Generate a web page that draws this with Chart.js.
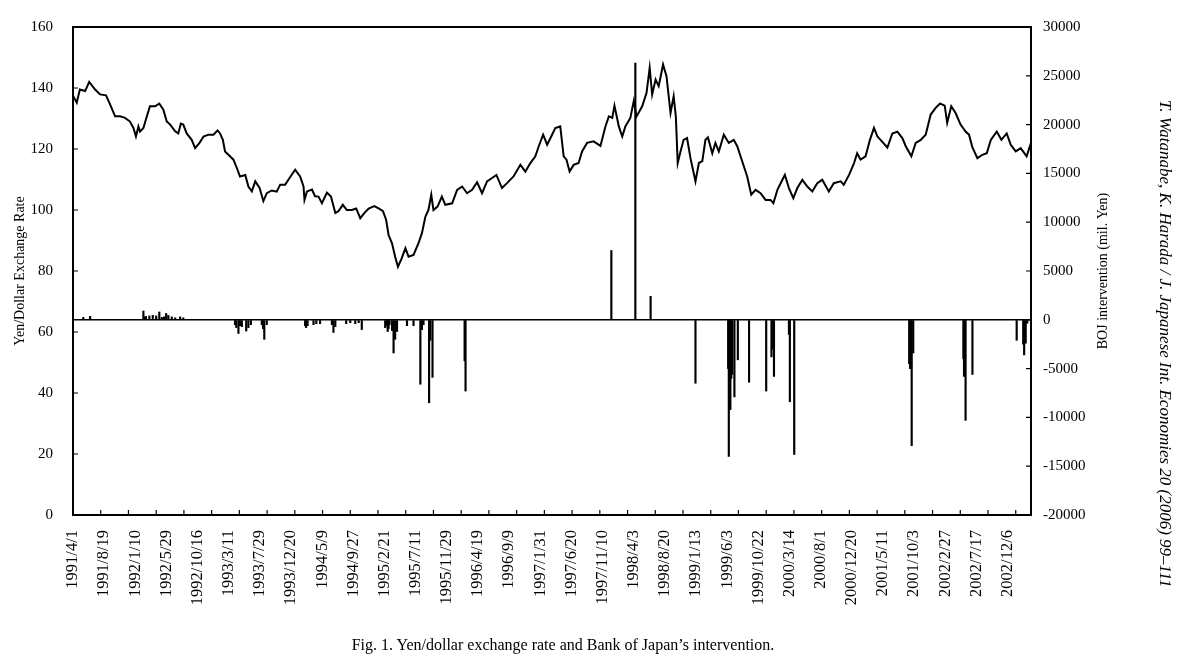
<!DOCTYPE html>
<html lang="en">
<head>
    <meta charset="UTF-8">
    <title>Yen/dollar exchange rate and Bank of Japan's intervention</title>
    <script src="https://cdn.jsdelivr.net/npm/chart.js"></script>
    <style>
        body { margin: 0; background: #fff; }
        #wrap { position: relative; width: 1200px; height: 668px; }
        #caption {
            position: absolute; left: 563px; top: 636px; transform: translateX(-50%);
            font: 16px "Liberation Serif", serif; color: #000; white-space: nowrap;
        }
        #journal {
            position: absolute; left: 1155px; top: 100px; writing-mode: vertical-rl;
            font: italic 17px "Liberation Serif", serif; color: #000; white-space: nowrap;
        }
    </style>
</head>
<body>
<div id="wrap">
    <canvas id="chart"></canvas>
    <div id="caption">Fig. 1. Yen/dollar exchange rate and Bank of Japan’s intervention.</div>
    <div id="journal">T. Watanabe, K. Harada / J. Japanese Int. Economies 20 (2006) 99–111</div>
</div>

<script>
// x labels: one every 100 business days from 1991/4/1
const dateLabels = ['1991/4/1','1991/8/19','1992/1/10','1992/5/29','1992/10/16','1993/3/11','1993/7/29',
    '1993/12/20','1994/5/9','1994/9/27','1995/2/21','1995/7/11','1995/11/29','1996/4/19','1996/9/9',
    '1997/1/31','1997/6/20','1997/11/10','1998/4/3','1998/8/20','1999/1/13','1999/6/3','1999/10/22',
    '2000/3/14','2000/8/1','2000/12/20','2001/5/11','2001/10/3','2002/2/27','2002/7/17','2002/12/6'];
const lastDay = 3075;
const tickEvery = 89;

// yen/dollar rate (business day index, yen)
const rateDay = [0,12,22,39,52,71,87,106,119,135,151,167,183,194,202,210,215,226,237,247,263,277,290,301,312,
    328,338,346,354,365,381,392,406,419,435,451,464,472,481,488,499,515,528,536,553,563,574,585,599,611,622,
    638,654,665,681,695,713,729,740,743,751,767,777,788,799,815,828,842,852,866,879,895,909,922,935,949,967,
    981,995,1005,1013,1024,1034,1043,1054,1067,1077,1093,1109,1120,1131,1141,1150,1157,1170,1184,1195,1217,
    1233,1249,1265,1281,1297,1313,1329,1345,1359,1377,1393,1414,1436,1452,1468,1484,1495,1509,1522,1535,1548,
    1564,1575,1584,1594,1607,1623,1634,1650,1671,1693,1709,1720,1731,1738,1752,1763,1773,1789,1800,1809,1827,
    1841,1851,1859,1870,1880,1894,1905,1918,1928,1935,1941,1950,1960,1971,1982,1998,2009,2020,2030,2038,2052,
    2062,2073,2089,2105,2121,2132,2148,2164,2177,2191,2207,2223,2239,2248,2261,2277,2285,2298,2312,2325,2341,
    2357,2373,2389,2405,2426,2442,2464,2474,2491,2507,2517,2528,2544,2558,2571,2582,2592,2614,2630,2646,2662,
    2673,2691,2705,2721,2737,2753,2769,2783,2798,2806,2819,2833,2849,2865,2876,2887,2903,2919,2933,2946,2965,
    2980,2997,3010,3026,3042,3061,3075];
const rateValue = [137.5,135.2,139.5,139,142,139.5,137.9,137.6,134.6,130.7,130.7,130.2,129,126.9,124.1,127.4,
    125.7,126.9,130.7,134,134,134.9,132.9,129,128,125.8,125.1,128.3,128,125.1,123,120.3,122,124.1,124.7,124.7,
    126.1,125.1,123,119.2,118.1,116.5,113.2,111,111.5,107.7,106.1,109.4,107.2,102.9,105.5,106.4,106,108.3,108.3,
    110.5,113.2,111,107.7,103.3,106.1,106.7,104.5,104.4,102.2,105.7,104.4,99,99.6,101.7,100,100,100.5,97.3,99,
    100.5,101.3,100.5,99.6,96.8,91.8,89.1,84.7,81.4,83.9,87.5,84.7,85.3,89.1,92.4,97.8,100,105,100,101.1,104.4,
    101.7,102.2,106.6,107.7,105.5,106.6,109.1,105.5,109.4,110.5,111.5,107.2,108.8,111,114.8,112.6,115.4,117.6,
    120.9,124.7,121.4,124.1,126.9,127.4,117.6,116.5,112.6,114.8,115.4,119.2,122,122.5,121,127.4,130.7,130.2,
    134.2,127.4,124.1,127.4,130.2,135.7,130.7,134,138.4,146.6,137.9,142.8,140.6,147.7,143.9,131.8,137.3,130.7,
    115.4,119.2,123,123.6,117,109.4,115.4,116,123,123.8,118.6,122,119.2,124.7,122,123,120.9,116,111,105,106.6,
    105.5,103.3,103.3,102.2,106.6,109.9,111.5,107.2,103.9,107.2,109.9,107.7,106.1,108.8,109.9,106.1,108.8,109.4,
    108.3,111.5,115.4,118.6,116.5,117.6,123,126.9,124.1,123,120.5,125.1,125.7,123.6,120.9,117.6,122,123,124.7,
    131.3,133.5,134.9,134.2,128.6,134,131.8,128,125.7,124.7,120.5,117,118.1,118.6,123,125.7,123,125.1,121.4,
    119.2,120.3,117.6,122];

// BOJ intervention (business day index, mil. yen; + = yen buying)
const intvDay = [33,55,226,230,234,245,256,267,277,285,292,299,306,317,328,344,354,
    520,524,531,536,542,556,563,571,606,610,614,622,
    745,748,753,772,781,793,831,836,842,877,890,906,917,927,
    1002,1008,1010,1013,1016,1024,1029,1034,1040,1072,1093,1115,1120,1125,1143,1147,1154,1257,1260,
    1728,1805,1854,
    1998,2103,2105,2107,2110,2113,2116,2123,2134,2170,2225,2242,2245,2250,2298,2301,2315,
    2684,2687,2690,2692,2697,2858,2860,2862,2865,2887,3029,3050,3053,3058,3063];
const intvAmount = [250,350,900,300,350,400,450,400,800,250,300,650,450,300,200,300,200,
    -500,-800,-1400,-600,-700,-1150,-800,-500,-500,-900,-2000,-500,
    -600,-800,-600,-500,-400,-400,-500,-1300,-700,-400,-300,-400,-300,-1000,
    -800,-600,-1200,-900,-500,-1100,-3400,-2000,-1200,-600,-600,-6600,-1000,-500,-8500,-2100,-5900,-4200,-7300,
    7100,26300,2400,
    -6500,-5000,-14000,-9200,-9200,-6000,-5600,-7900,-4100,-6400,-7300,-3800,-3000,-5800,-1500,-8400,-13800,
    -4500,-5000,-4800,-12900,-3400,-4000,-5800,-5000,-10300,-5600,-2100,-2500,-3600,-2400,-350];

Chart.defaults.font.family = '"Liberation Serif", "Times New Roman", serif';
Chart.defaults.color = '#000';

const frame = {
    id: 'frame',
    afterDraw(chart) {
        const { ctx, chartArea: a, scales } = chart;
        ctx.save();
        ctx.strokeStyle = '#000';
        ctx.lineWidth = 1.2;
        ctx.beginPath();
        for (let d = tickEvery; d < lastDay; d += tickEvery) {
            const px = scales.x.getPixelForValue(d);
            ctx.moveTo(px, a.bottom);
            ctx.lineTo(px, a.bottom - 5);
        }
        scales.y.ticks.forEach(t => {
            const py = scales.y.getPixelForValue(t.value);
            ctx.moveTo(a.left, py);
            ctx.lineTo(a.left + 5, py);
        });
        scales.y2.ticks.forEach(t => {
            const py = scales.y2.getPixelForValue(t.value);
            ctx.moveTo(a.right, py);
            ctx.lineTo(a.right - 5, py);
        });
        ctx.stroke();
        ctx.lineWidth = 2;
        ctx.strokeRect(a.left, a.top, a.width, a.height);
        // right axis title reads bottom to top, like the left one
        ctx.translate(a.right + 72, (a.top + a.bottom) / 2);
        ctx.rotate(-Math.PI / 2);
        ctx.fillStyle = '#000';
        ctx.textAlign = 'center';
        ctx.textBaseline = 'middle';
        ctx.font = '14px "Liberation Serif", serif';
        ctx.fillText('BOJ intervention (mil. Yen)', 0, 0);
        ctx.restore();
    }
};

new Chart(document.getElementById('chart'), {
    data: {
        datasets: [{
            type: 'line',
            data: rateDay.map((d, i) => ({ x: d, y: rateValue[i] })),
            yAxisID: 'y',
            borderColor: '#000',
            borderWidth: 2,
            pointRadius: 0,
            tension: 0
        }, {
            type: 'bar',
            data: intvDay.map((d, i) => ({ x: d, y: intvAmount[i] })),
            yAxisID: 'y2',
            backgroundColor: '#000',
            barThickness: 1.5
        }]
    },
    options: {
        responsive: true,
        maintainAspectRatio: false,
        animation: false,
        layout: { padding: { top: 27 } },
        plugins: { legend: { display: false }, tooltip: { enabled: false } },
        scales: {
            x: {
                type: 'linear',
                offset: false,
                min: 0,
                max: lastDay,
                afterBuildTicks: s => { s.ticks = dateLabels.map((_, i) => ({ value: i * 100 })); },
                afterFit: s => { s.height = 153; },
                grid: { display: false, offset: false },
                border: { display: false },
                ticks: {
                    autoSkip: false,
                    maxRotation: 90,
                    minRotation: 90,
                    padding: 7,
                    font: { size: 16.5 },
                    callback: (v, i) => dateLabels[i]
                }
            },
            y: {
                position: 'left',
                min: 0,
                max: 160,
                afterFit: s => { s.width = 73; },
                grid: { display: false },
                border: { display: false },
                ticks: { stepSize: 20, padding: 12, font: { size: 15 } },
                title: {
                    display: true,
                    text: 'Yen/Dollar Exchange Rate',
                    font: { size: 14 },
                    padding: { top: 12, bottom: 0 }
                }
            },
            y2: {
                position: 'right',
                min: -20000,
                max: 30000,
                afterFit: s => { s.width = 169; },
                border: { display: false },
                grid: {
                    drawTicks: false,
                    color: c => c.tick.value === 0 ? '#000' : 'rgba(0,0,0,0)',
                    lineWidth: 1.5
                },
                ticks: { stepSize: 5000, padding: 12, font: { size: 15 }, callback: v => String(v) }
            }
        }
    },
    plugins: [frame]
});
</script>
</body>
</html>
